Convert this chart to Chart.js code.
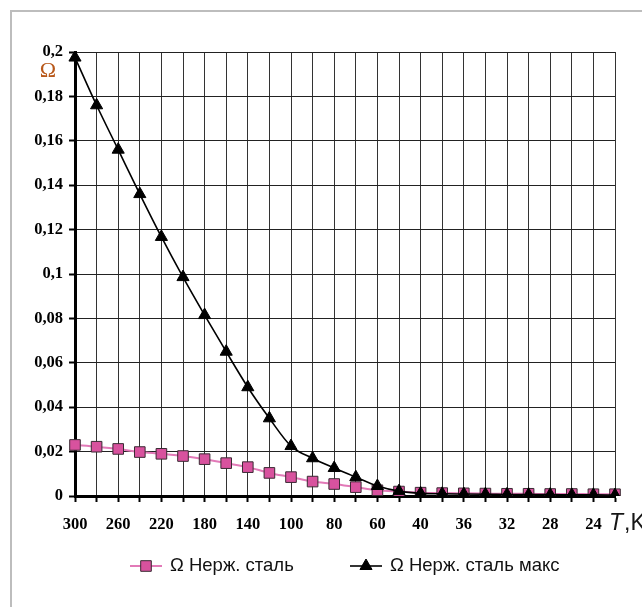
<!DOCTYPE html>
<html><head><meta charset="utf-8">
<script src="https://cdn.jsdelivr.net/npm/chart.js@4"></script>
<style>html,body{margin:0;padding:0;background:#fff;overflow:hidden}#wrap{position:relative;width:642px;height:607px}</style>
</head><body><div id="wrap"><canvas id="c" width="642" height="607"></canvas></div>
<script>
const categories = ['300','280','260','240','220','200','180','160','140','120','100','90','80','70','60','50','40','38','36','34','32','30','28','26','24','22'];
const xTickLabels = ['300','','260','','220','','180','','140','','100','','80','','60','','40','','36','','32','','28','','24',''];
const yTickLabels = ['0','','0,02','','0,04','','0,06','','0,08','','0,1','','0,12','','0,14','','0,16','','0,18','','0,2'];
const seriesNames = ['\u03A9 Нерж. сталь', '\u03A9 Нерж. сталь макс'];
const steel = [0.0230,0.0222,0.0212,0.0198,0.0190,0.0180,0.0166,0.0148,0.0130,0.0104,0.0085,0.0065,0.0054,0.0040,0.0026,0.0020,0.0015,0.0013,0.0012,0.0011,0.0010,0.0010,0.0009,0.0009,0.0008,0.0008];
const steelMax = [0.1975,0.1760,0.1560,0.1360,0.1167,0.0986,0.0815,0.0650,0.0490,0.0350,0.0225,0.0170,0.0126,0.0085,0.0045,0.0022,0.0012,0.0010,0.0009,0.0008,0.0007,0.0006,0.0006,0.0005,0.0005,0.0004];
const axisUnitY = '\u03A9';

const decorPlugin = {
  id: 'decor',
  beforeDraw(chart) {
    const ctx = chart.ctx;
    ctx.save();
    ctx.fillStyle = '#fff';
    ctx.fillRect(0, 0, chart.width, chart.height);
    ctx.strokeStyle = '#bdbdbd';
    ctx.lineWidth = 2;
    ctx.beginPath();
    ctx.moveTo(11, chart.height);
    ctx.lineTo(11, 11);
    ctx.lineTo(chart.width, 11);
    ctx.stroke();
    ctx.restore();
  },
  afterDraw(chart) {
    const ctx = chart.ctx;
    const xs = chart.scales.x, ys = chart.scales.y;
    ctx.save();
    // Y unit
    ctx.fillStyle = '#b8581a';
    ctx.font = '22px "Liberation Serif"';
    ctx.textAlign = 'center';
    ctx.textBaseline = 'middle';
    ctx.fillText(axisUnitY, chart.chartArea.left - 27, ys.getPixelForValue(0.1915));
    // X unit
    ctx.fillStyle = '#151515';
    ctx.textAlign = 'left';
    ctx.textBaseline = 'alphabetic';
    const bx = xs.right - 6, by = xs.top + 34;
    ctx.font = 'italic 23px "Liberation Sans"';
    ctx.fillText('T', bx, by);
    const tw = ctx.measureText('T').width;
    ctx.font = '23px "Liberation Sans"';
    ctx.fillText(',K', bx + tw + 1, by);
    // legend
    const order = [0, 1];
    const starts = [130, 350];
    const ly = 566;
    order.forEach((di, k) => {
      const ds = chart.data.datasets[di];
      const x0 = starts[k];
      ctx.strokeStyle = ds.borderColor;
      ctx.lineWidth = ds.borderWidth;
      ctx.beginPath();
      ctx.moveTo(x0, ly);
      ctx.lineTo(x0 + 32, ly);
      ctx.stroke();
      ctx.fillStyle = ds.pointBackgroundColor;
      ctx.strokeStyle = ds.pointBorderColor;
      ctx.lineWidth = ds.pointBorderWidth;
      Chart.helpers.drawPoint(ctx, {pointStyle: ds.pointStyle, radius: ds.pointRadius, rotation: 0, borderWidth: ds.pointBorderWidth}, x0 + 16, ly);
      ctx.fillStyle = '#111';
      ctx.font = '18.5px "Liberation Sans"';
      ctx.textBaseline = 'middle';
      ctx.textAlign = 'left';
      ctx.fillText(ds.label, x0 + 40, ly);
    });
    ctx.restore();
  }
};

new Chart(document.getElementById('c'), {
  type: 'line',
  data: {
    labels: categories,
    datasets: [
      {
        label: seriesNames[0], data: steel, order: 1,
        borderColor: '#e27ab8', borderWidth: 2,
        pointStyle: 'rect', pointRadius: 7.5, pointBackgroundColor: '#d8529e',
        pointBorderColor: '#3a2a33', pointBorderWidth: 1,
        cubicInterpolationMode: 'monotone', fill: false
      },
      {
        label: seriesNames[1], data: steelMax, order: 0,
        borderColor: '#000', borderWidth: 1.6,
        pointStyle: 'triangle', pointRadius: 7, pointBackgroundColor: '#000',
        pointBorderColor: '#000', pointBorderWidth: 1,
        cubicInterpolationMode: 'monotone', fill: false
      }
    ]
  },
  options: {
    responsive: false,
    animation: false,
    devicePixelRatio: 1,
    layout: {padding: {left: 10, right: 27, top: 52, bottom: 71}},
    plugins: {legend: {display: false}, tooltip: {enabled: false}},
    scales: {
      x: {
        type: 'category', offset: false,
        grid: {color: '#333', lineWidth: 1, tickLength: 6, tickColor: '#000', tickWidth: 2},
        border: {color: '#000', width: 3},
        ticks: {autoSkip: false, maxRotation: 0, minRotation: 0, padding: 13, color: '#000',
          font: {family: '"Liberation Serif"', weight: 'bold', size: 16.5},
          callback: (v, i) => xTickLabels[i]},
        afterFit: s => { s.height = 40; }
      },
      y: {
        min: 0, max: 0.2,
        grid: {color: '#222', lineWidth: 1, tickLength: 6, tickWidth: 2,
          tickColor: c => (c.index % 2 ? 'rgba(0,0,0,0)' : '#000')},
        border: {color: '#000', width: 3},
        ticks: {stepSize: 0.01, padding: 6, color: '#000',
          font: {family: '"Liberation Serif"', weight: 'bold', size: 16.5},
          callback: (v, i) => yTickLabels[i]},
        afterFit: s => { s.width = 65; }
      }
    }
  },
  plugins: [decorPlugin]
});
</script>
</body></html>
